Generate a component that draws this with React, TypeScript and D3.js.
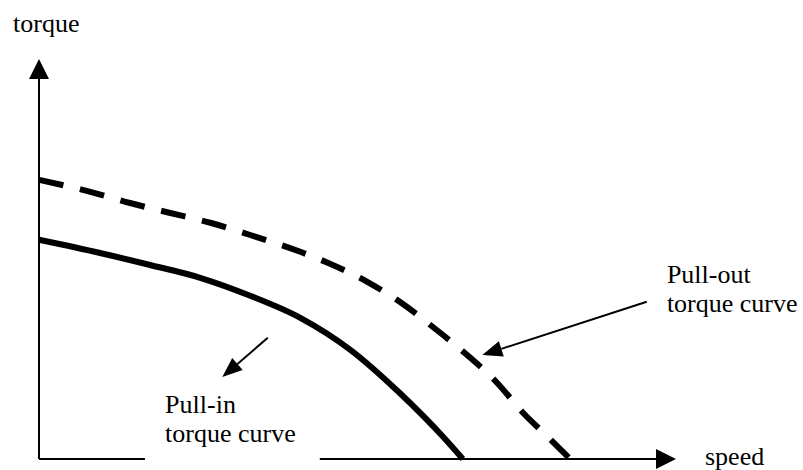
import React from "react";
import * as d3 from "d3";

const W = 803;
const H = 470;

// speed (0-100) vs torque (0-100)
const pullOutSpeed = [0, 7.9, 14.0, 20.2, 26.5, 32.5, 40.2, 44.5, 50.5, 55.5, 60.6, 65.5, 70.5, 74.5, 78.3, 81.7];
const pullOutTorque = [69.8, 66.8, 64.0, 61.5, 59.0, 56.0, 51.8, 49.0, 44.3, 39.3, 33.0, 26.5, 19.0, 11.5, 5.5, 0];

const pullInSpeed = [0, 9.4, 17.1, 24.8, 32.5, 40.2, 47.9, 55.5, 62.2, 65.2];
const pullInTorque = [54.8, 51.5, 48.5, 45.3, 40.8, 35.3, 27.3, 16.5, 5.5, 0];

const axisMax = { x: 98, y: 100 };
const axisLabels = { x: "speed", y: "torque" };
const pullOutLabel = ["Pull-out", "torque curve"];
const pullInLabel = ["Pull-in", "torque curve"];

export default function App() {
  const x = d3.scaleLinear().domain([0, 100]).range([39, 689]);
  const y = d3.scaleLinear().domain([0, 100]).range([459, 59]);

  const line = d3
    .line<[number, number]>()
    .x((d) => x(d[0]))
    .y((d) => y(d[1]))
    .curve(d3.curveMonotoneX);

  const outPts: [number, number][] = pullOutSpeed.map((s, i) => [s, pullOutTorque[i]]);
  const inPts: [number, number][] = pullInSpeed.map((s, i) => [s, pullInTorque[i]]);

  const x0 = x(0), y0 = y(0), xTip = x(axisMax.x), yTip = y(axisMax.y);
  const ah = 20, aw = 10;

  const arrow = (sx: number, sy: number, tx: number, ty: number) => {
    const x1 = x(sx), y1 = y(sy), x2 = x(tx), y2 = y(ty);
    const dx = x2 - x1, dy = y2 - y1;
    const len = Math.hypot(dx, dy);
    const ux = dx / len, uy = dy / len;
    const hl = 20, hw = 8;
    const bx = x2 - ux * hl, by = y2 - uy * hl;
    const pts = [
      [x2, y2],
      [bx - uy * hw, by + ux * hw],
      [bx + uy * hw, by - ux * hw],
    ];
    return (
      <g>
        <line x1={x1} y1={y1} x2={bx} y2={by} stroke="#000" strokeWidth={2} />
        <polygon points={pts.map((p) => p.join(",")).join(" ")} fill="#000" />
      </g>
    );
  };

  const font = "Liberation Serif, Times New Roman, serif";
  const fs = 26;
  const T = (props: { x: number; y: number; children: string }) => (
    <text x={props.x} y={props.y} fontFamily={font} fontSize={fs} fill="#000">
      {props.children}
    </text>
  );

  return (
    <svg
      width={W}
      height={H}
      style={{ position: "absolute", left: 0, top: 0, background: "#fff" }}
    >
      <rect width={W} height={H} fill="#fff" />
      {/* axes */}
      <line x1={x0} y1={y0} x2={x0} y2={yTip + ah - 2} stroke="#000" strokeWidth={2} />
      <polygon
        points={`${x0},${yTip} ${x0 - aw},${yTip + ah} ${x0 + aw},${yTip + ah}`}
        fill="#000"
      />
      <line x1={x0} y1={y0} x2={xTip - ah + 2} y2={y0} stroke="#000" strokeWidth={2} />
      <polygon
        points={`${xTip},${y0} ${xTip - ah},${y0 - aw} ${xTip - ah},${y0 + aw}`}
        fill="#000"
      />
      {/* curves */}
      <path
        d={line(outPts) || ""}
        fill="none"
        stroke="#000"
        strokeWidth={6}
        strokeDasharray="25 17"
      />
      <path d={line(inPts) || ""} fill="none" stroke="#000" strokeWidth={6} />
      {/* annotations */}
      {arrow(93.5, 39.3, 68.2, 26)}
      {arrow(35.2, 30.3, 28.2, 20.5)}
      <rect x={x(16.3)} y={y0 - 8} width={x(43.2) - x(16.3)} height={16} fill="#fff" />
      <T x={13} y={32}>{axisLabels.y}</T>
      <T x={705} y={465}>{axisLabels.x}</T>
      <T x={x(96.6)} y={y(44)}>{pullOutLabel[0]}</T>
      <T x={x(96.6)} y={y(36.8)}>{pullOutLabel[1]}</T>
      <T x={x(19.4)} y={y(11.5)}>{pullInLabel[0]}</T>
      <T x={x(19.4)} y={y(4.3)}>{pullInLabel[1]}</T>
    </svg>
  );
}
